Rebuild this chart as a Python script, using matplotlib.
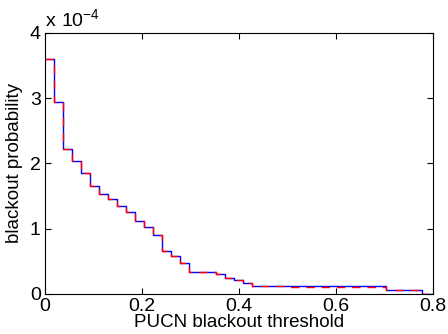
import numpy as np
import matplotlib
matplotlib.use('Agg')
import matplotlib.pyplot as plt

plt.rcParams['font.family'] = ['Liberation Sans', 'DejaVu Sans']
plt.rcParams['mathtext.fontset'] = 'custom'
plt.rcParams['mathtext.rm'] = 'Liberation Sans'

# step edges (PUCN blackout threshold) and levels (x 1e-4)
thr = [0, 0.019, 0.037, 0.056, 0.074, 0.093, 0.111, 0.130, 0.148, 0.167,
       0.185, 0.204, 0.222, 0.241, 0.260, 0.278, 0.297, 0.315, 0.334, 0.352,
       0.371, 0.389, 0.408, 0.426, 0.500, 0.600, 0.704, 0.778, 0.800]
p_blue = [3.60, 2.94, 2.22, 2.04, 1.86, 1.66, 1.54, 1.46, 1.35, 1.26,
          1.12, 1.02, 0.90, 0.66, 0.58, 0.47, 0.34, 0.335, 0.33, 0.31,
          0.25, 0.215, 0.17, 0.128, 0.125, 0.12, 0.06, 0.0, 0.0]
p_red = [3.60, 2.94, 2.22, 2.04, 1.86, 1.66, 1.54, 1.46, 1.35, 1.26,
         1.12, 1.02, 0.90, 0.66, 0.58, 0.47, 0.34, 0.335, 0.33, 0.31,
         0.25, 0.215, 0.17, 0.12, 0.112, 0.11, 0.06, 0.0, 0.0]

fig = plt.figure(figsize=(4.48, 3.34), dpi=100)
ax = fig.add_axes([0.1004, 0.1198, 0.8661, 0.7814])

ax.step(thr, p_blue, where='post', color='b', lw=1.0)
ax.step(thr, p_red, where='post', color='r', lw=1.0, dashes=(6, 5))

ax.set_xlim(0, 0.8)
ax.set_ylim(0, 4)
ax.set_xticks([0, 0.2, 0.4, 0.6, 0.8])
ax.set_xticklabels(['0', '0.2', '0.4', '0.6', '0.8'])
ax.set_yticks([0, 1, 2, 3, 4])
ax.tick_params(direction='in', top=True, right=True, labelsize=14, length=4, width=0.8, pad=3)
for s in ax.spines.values():
    s.set_linewidth(0.8)

ax.set_xlabel('PUCN blackout threshold', fontsize=13.5, labelpad=-1)
ax.set_ylabel('blackout probability', fontsize=13.5, labelpad=5)
ax.text(0.0, 1.01, r'$\mathregular{x\ 10^{-4}}$', transform=ax.transAxes,
        fontsize=14, ha='left', va='bottom')

plt.savefig('out.png', dpi=100)
